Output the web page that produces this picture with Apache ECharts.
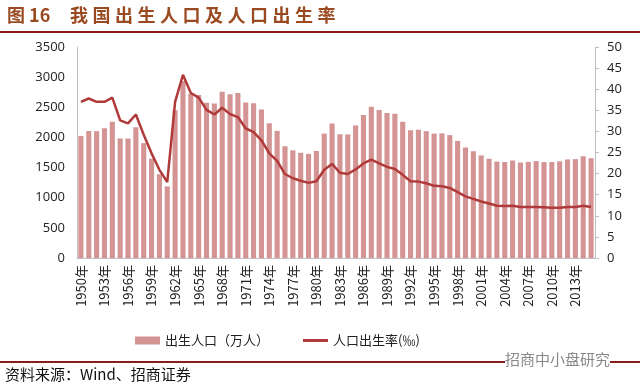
<!DOCTYPE html>
<html><head><meta charset="utf-8">
<script src="https://cdn.jsdelivr.net/npm/echarts@6/dist/echarts.min.js"></script>
<style>html,body{margin:0;padding:0;background:#fff}#c{width:640px;height:390px}</style>
</head><body><div id="c"></div>
<script>
const years = [];
for (let y = 1950; y <= 2015; y++) years.push(y + '年');
const births = [2023,2107,2104,2151,2260,1984,1982,2169,1905,1647,1389,1188,2451,2934,2721,2704,2577,2563,2757,2715,2736,2578,2566,2463,2235,2109,1853,1786,1745,1727,1776,2064,2230,2052,2050,2196,2374,2508,2457,2407,2391,2258,2119,2126,2104,2063,2067,2038,1942,1834,1771,1702,1647,1599,1593,1617,1584,1594,1608,1591,1592,1604,1635,1640,1687,1655];
const birthRate = [37.0,37.8,37.0,37.0,38.0,32.6,31.9,34.0,29.2,24.8,20.9,18.0,37.0,43.4,39.1,38.0,35.1,34.0,35.6,34.1,33.4,30.7,29.8,27.9,24.8,23.0,19.9,18.9,18.3,17.8,18.2,20.9,22.3,20.2,19.9,21.0,22.4,23.3,22.4,21.6,21.1,19.7,18.2,18.1,17.7,17.1,17.0,16.6,15.6,14.6,14.0,13.4,12.9,12.4,12.3,12.4,12.1,12.1,12.1,12.0,11.9,11.9,12.1,12.1,12.4,12.1];
const leftTicks = [0, 3500, 500];
const rightTicks = [0, 50, 5];

const chart = echarts.init(document.getElementById('c'));
const font = 'Open Sans, Noto Sans CJK SC, sans-serif';
chart.setOption({
  animation: false,
  textStyle: { fontFamily: font },
  grid: { left: 77, right: 45, top: 47, bottom: 132 },
  legend: {
    left: 130, top: 329, itemGap: 34, itemWidth: 25, itemHeight: 8,
    textStyle: { fontSize: 13, color: '#222', fontFamily: 'Noto Sans CJK SC' },
    data: [
      { name: '出生人口（万人）', icon: 'rect' },
      { name: '人口出生率(‰)', icon: 'path://M0,0 L25,0 L25,3 L0,3 Z' }
    ]
  },
  xAxis: {
    type: 'category', data: years,
    axisLine: { lineStyle: { color: '#bfbfbf' } },
    axisTick: { show: false },
    axisLabel: { rotate: 90, interval: 2, fontSize: 13, color: '#222', margin: 7, fontFamily: 'Noto Sans CJK SC' }
  },
  yAxis: [
    { type: 'value', min: leftTicks[0], max: leftTicks[1], interval: leftTicks[2],
      splitLine: { show: false },
      axisLine: { show: true, lineStyle: { color: '#bfbfbf' } },
      axisTick: { show: false },
      axisLabel: { fontSize: 13, color: '#222', margin: 12, formatter: v => String(v) } },
    { type: 'value', min: rightTicks[0], max: rightTicks[1], interval: rightTicks[2],
      splitLine: { show: false },
      axisLine: { show: true, lineStyle: { color: '#bfbfbf' } },
      axisTick: { show: true, inside: false, length: 4, lineStyle: { color: '#bfbfbf' } },
      axisLabel: { fontSize: 13, color: '#222', margin: 12, formatter: v => String(v) } }
  ],
  series: [
    { name: '出生人口（万人）', type: 'bar', data: births, yAxisIndex: 0,
      barCategoryGap: '35%', itemStyle: { color: '#d49494' } },
    { name: '人口出生率(‰)', type: 'line', data: birthRate, yAxisIndex: 1,
      symbol: 'none', lineStyle: { color: '#b03a3a', width: 2.5 }, itemStyle: { color: '#b03a3a' } }
  ],
  graphic: [
    { type: 'text', left: 7, top: 6, style: { text: '图 16', fontSize: 18, fontWeight: 'bold', fill: '#9a4a20', fontFamily: 'Noto Sans CJK SC' } },
    { type: 'text', left: 70, top: 6, style: { text: '我\u2005国\u2005出\u2005生\u2005人\u2005口\u2005及\u2005人\u2005口\u2005出\u2005生\u2005率', fontSize: 18, fontWeight: 'bold', fill: '#9a4a20', fontFamily: 'Noto Sans CJK SC' } },
    { type: 'rect', shape: { x: 0, y: 31, width: 640, height: 2 }, style: { fill: '#8b1c1c' } },
    { type: 'rect', shape: { x: 0, y: 361, width: 640, height: 2 }, style: { fill: '#8b1c1c' } },
    { type: 'text', left: 5, top: 367, style: { text: '资料来源：Wind、招商证券', fontSize: 15, fill: '#111', fontFamily: 'Noto Sans CJK SC' } },
    { type: 'text', left: 505, top: 352, style: { text: '招商中小盘研究', fontSize: 15, fill: '#888', backgroundColor: '#fff', fontFamily: 'Noto Sans CJK SC' } }
  ]
});
</script></body></html>
